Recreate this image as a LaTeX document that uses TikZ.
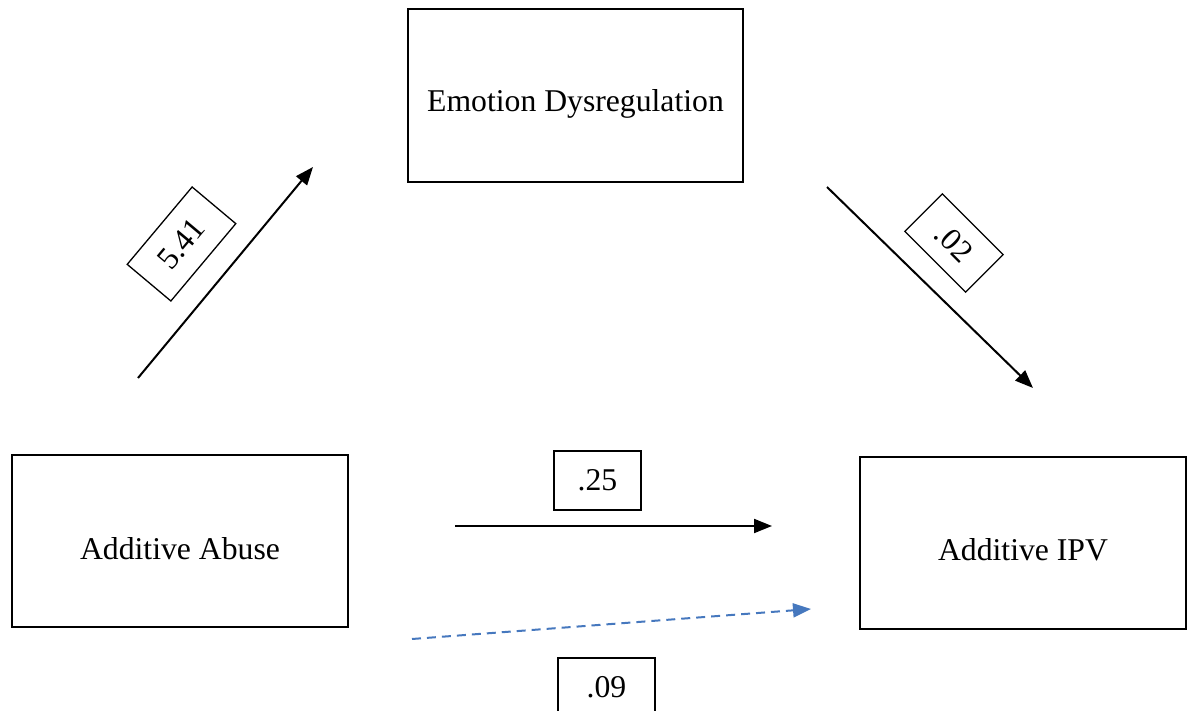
\documentclass[tikz,border=0pt]{standalone}
\usepackage{fontspec}
\setmainfont{Liberation Serif}
\usetikzlibrary{arrows.meta}
\definecolor{dashblue}{RGB}{70,120,190}
\tikzset{
  bigbox/.style={draw, line width=1.6pt, inner sep=0pt},
  txt/.style={inner sep=0pt, align=center, font=\fontsize{31.7}{36}\selectfont},
  lbl/.style={draw, line width=1.3pt, inner sep=0pt, align=center, font=\fontsize{31.7}{36}\selectfont},
  path/.style={line width=2pt, -{Triangle[length=18pt,width=14pt]}},
  dpath/.style={line width=2pt, dash pattern=on 9pt off 6pt, dashblue, -{Triangle[length=18pt,width=14pt]}}
}
\begin{document}
\begin{tikzpicture}[x=1pt,y=-1pt]
\useasboundingbox (0,0) rectangle (1187,711);
\node[bigbox, minimum width=335pt, minimum height=173pt] (emo) at (575.5,95.5) {};
\node[txt] (emot) at ([yshift=-8pt]emo.center) {Emotion Dysregulation};
\node[bigbox, minimum width=336pt, minimum height=172pt] (abuse) at (180,541) {};
\node[txt] (abuset) at ([yshift=-8pt]abuse.center) {Additive Abuse};
\node[bigbox, minimum width=326pt, minimum height=172pt] (ipv) at (1023,543) {};
\node[txt] (ipvt) at ([yshift=-7pt]ipv.center) {Additive IPV};

\coordinate (a1) at (138,378);
\coordinate (a2) at (313,167);
\draw[path] (a1) -- (a2);
\node[lbl, minimum width=101pt, minimum height=57pt, rotate=50] (l541) at (181.5,244) {5.41};

\coordinate (b1) at (827,187);
\coordinate (b2) at (1033,388);
\draw[path] (b1) -- (b2);
\node[lbl, minimum width=86pt, minimum height=53pt, rotate=-45] (l02) at (954,243) {.02};

\coordinate (c1) at (455,526);
\coordinate (c2) at (772,526);
\draw[path] (c1) -- (c2);
\node[lbl, minimum width=87pt, minimum height=59pt] (l25) at (597.5,480.5) {.25};

\coordinate (d1) at (412,639);
\coordinate (d2) at (811,609);
\draw[dpath] (d1) -- (d2);
\node[lbl, minimum width=97pt, minimum height=58pt] (l09) at (606.5,687) {.09};
\end{tikzpicture}
\end{document}
